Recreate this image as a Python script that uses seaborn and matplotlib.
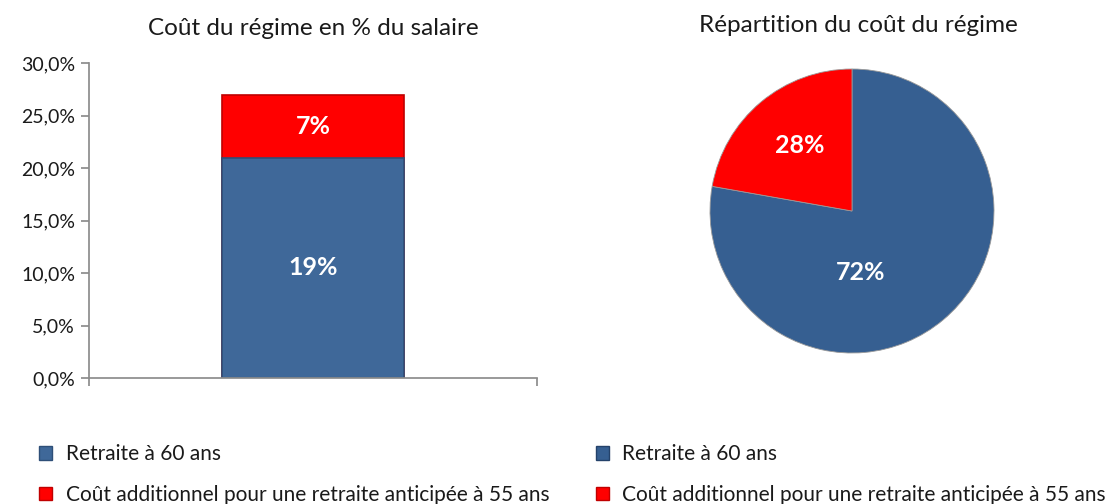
import matplotlib
matplotlib.use("Agg")
import matplotlib.pyplot as plt
from matplotlib.patches import Patch
import seaborn as sns
import pandas as pd

# values (bar heights in % of salary)
series = ["Retraite à 60 ans", "Coût additionnel pour une retraite anticipée à 55 ans"]
bar_values = [21.0, 6.0]
bar_labels = ["19%", "7%"]
pie_labels = ["72%", "28%"]
y_ticks = [0, 5, 10, 15, 20, 25, 30]

blue = "#3F6899"
blue_pie = "#365F91"
red = "#FF0000"

sns.set_theme(style="white")
plt.rcParams["font.family"] = ["Lato", "DejaVu Sans"]

fig = plt.figure(figsize=(11.13, 5.04), dpi=100)

# --- left: stacked bar
ax = fig.add_axes([89 / 1113, 1 - 378 / 504, 448 / 1113, 315 / 504])
df = pd.DataFrame({"cat": [""], "base": [bar_values[0]],
                   "total": [bar_values[0] + bar_values[1]]})
sns.barplot(data=df, x="cat", y="total", color=red, saturation=1, width=0.406,
            edgecolor="#C00000", linewidth=1.2, ax=ax)
sns.barplot(data=df, x="cat", y="base", color=blue, saturation=1, width=0.406,
            edgecolor="#2E4F78", linewidth=1.2, ax=ax)
ax.bar_label(ax.containers[1], labels=[bar_labels[0]], label_type="center",
             color="white", fontsize=18, fontweight="bold")
ax.text(0, bar_values[0] + bar_values[1] / 2, bar_labels[1], ha="center", va="center",
        color="white", fontsize=18, fontweight="bold")

ax.set_ylim(0, 30)
ax.set_xlim(-0.5, 0.5)
ax.set_yticks(y_ticks)
ax.set_yticklabels([f"{v:.1f}%".replace(".", ",") for v in y_ticks], fontsize=14)
ax.set_xticks([-0.5, 0.5])
ax.set_xticklabels(["", ""])
ax.set_xlabel("")
ax.set_ylabel("")
for s in ["top", "right"]:
    ax.spines[s].set_visible(False)
for s in ["left", "bottom"]:
    ax.spines[s].set_color("#8C8C8C")
ax.tick_params(axis="both", direction="out", length=6, color="#8C8C8C",
               left=True, bottom=True, labelcolor="#1a1a1a", pad=4)
ax.set_title("Coût du régime en % du salaire", fontsize=17.5, color="#1a1a1a", pad=20)

fig.legend(handles=[Patch(facecolor=blue, edgecolor="#2E4F78"),
                    Patch(facecolor=red, edgecolor="#C00000")],
           labels=series, loc="upper left", bbox_to_anchor=(31 / 1113, 1 - 436 / 504),
           frameon=False, fontsize=15, handlelength=0.6, handleheight=0.6,
           handletextpad=0.7, labelspacing=1.0, borderaxespad=0, labelcolor="#1a1a1a")

# --- right: pie
axp = fig.add_axes([710 / 1113, 1 - 353 / 504, 284 / 1113, 284 / 504])
axp.pie(bar_values, colors=[blue_pie, red], startangle=90, counterclock=False,
        wedgeprops=dict(edgecolor="#9a9a9a", linewidth=0.6))
axp.set_xlim(-1, 1)
axp.set_ylim(-1, 1)
axp.text(0.06, -0.43, pie_labels[0], ha="center", va="center", color="white",
         fontsize=18, fontweight="bold")
axp.text(-0.37, 0.46, pie_labels[1], ha="center", va="center", color="white",
         fontsize=18, fontweight="bold")
fig.text(858 / 1113, 1 - 26 / 504, "Répartition du coût du régime", ha="center",
         va="center", fontsize=17.5, color="#1a1a1a")

fig.legend(handles=[Patch(facecolor=blue_pie, edgecolor="#24426A"),
                    Patch(facecolor=red, edgecolor="#C00000")],
           labels=series, loc="upper left", bbox_to_anchor=(588 / 1113, 1 - 436 / 504),
           frameon=False, fontsize=15, handlelength=0.6, handleheight=0.6,
           handletextpad=0.65, labelspacing=1.0, borderaxespad=0, labelcolor="#1a1a1a")

fig.savefig("out.png", dpi=100)
